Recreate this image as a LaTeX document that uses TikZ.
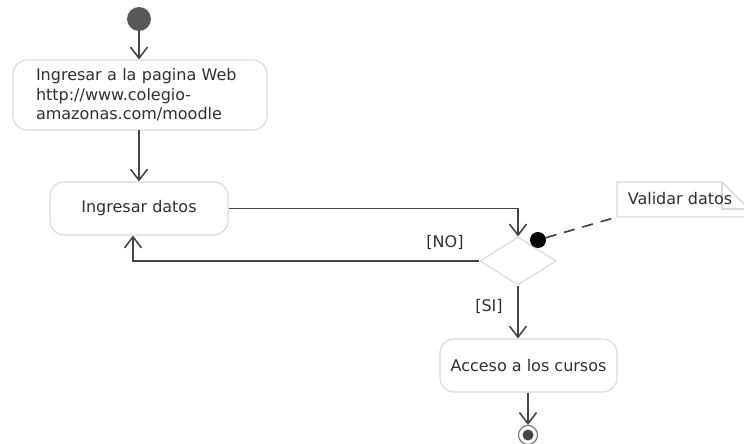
\documentclass[tikz,border=0pt]{standalone}
\usepackage{fontspec}
\setmainfont{DejaVu Sans}
\usetikzlibrary{arrows.meta,shapes.geometric}
\definecolor{linecol}{HTML}{454545}
\definecolor{boxcol}{HTML}{D9D9D9}
\definecolor{txtcol}{HTML}{303030}
\begin{document}
\begin{tikzpicture}[x=1pt,y=-1pt,
  every node/.style={text=txtcol, font=\fontsize{16}{19.5}\selectfont},
  actbox/.style={draw=boxcol, line width=1.1pt, rounded corners=14pt, fill=white, inner sep=0pt},
  flow/.style={draw=linecol, line width=1.9pt, -{Straight Barb[length=11pt,width=17pt,line width=1.6pt]}},
  lbl/.style={inner sep=0pt}
]
\useasboundingbox (0,0) rectangle (744,444);

\node[circle, fill=linecol!90, minimum size=24pt, inner sep=0pt] (init) at (139,19) {};

\node[actbox, minimum width=254pt, minimum height=70pt, text width=208pt, inner xsep=23pt, align=left] (box1) at (140,95)
  {Ingresar a la pagina Web\\http://www.colegio-\\amazonas.com/moodle};

\node[actbox, minimum width=178pt, minimum height=53pt] (box2) at (139,208.5) {Ingresar datos};

\node[diamond, draw=boxcol, line width=1.1pt, fill=white, minimum width=76pt, minimum height=48pt, inner sep=0pt] (dec) at (518,261) {};

\node[circle, fill=black, minimum size=16pt, inner sep=0pt] (dot) at (538,240) {};

\node[actbox, minimum width=177pt, minimum height=53pt] (box3) at (528.5,365.5) {Acceso a los cursos};

\node[circle, draw=linecol!70, line width=1.2pt, minimum size=19pt, inner sep=0pt] (final) at (528,435) {};
\fill[linecol] (final.center) circle (5.5pt);

% note
\coordinate (nbl) at (617,217);
\draw[draw=boxcol, line width=1.1pt, fill=white] (nbl) -- (617,182) -- (722,182) -- (749,209) -- (749,217) -- cycle;
\draw[draw=boxcol, line width=1.1pt] (722,182) -- (722,209) -- (749,209);
\node[lbl] (note) at (680,199) {Validar datos};

% connectors
\draw[flow] (init.south) -- (init.south |- box1.north);
\draw[flow] (139,130) -- (box2.north);
\draw[flow] (box2.east) -| (dec.north);
\draw[flow] (dec.west) -| ([xshift=-6pt]box2.south);
\draw[flow] (dec.south) -- (dec.south |- box3.north);
\draw[flow] (box3.south -| final.north) -- (final.north);
\draw[draw=linecol, line width=1.7pt, dash pattern=on 11pt off 8pt] (dot) -- (nbl);

\node[lbl] (no) at (445,242) {[NO]};
\node[lbl] (si) at (489,306) {[SI]};
\end{tikzpicture}
\end{document}
